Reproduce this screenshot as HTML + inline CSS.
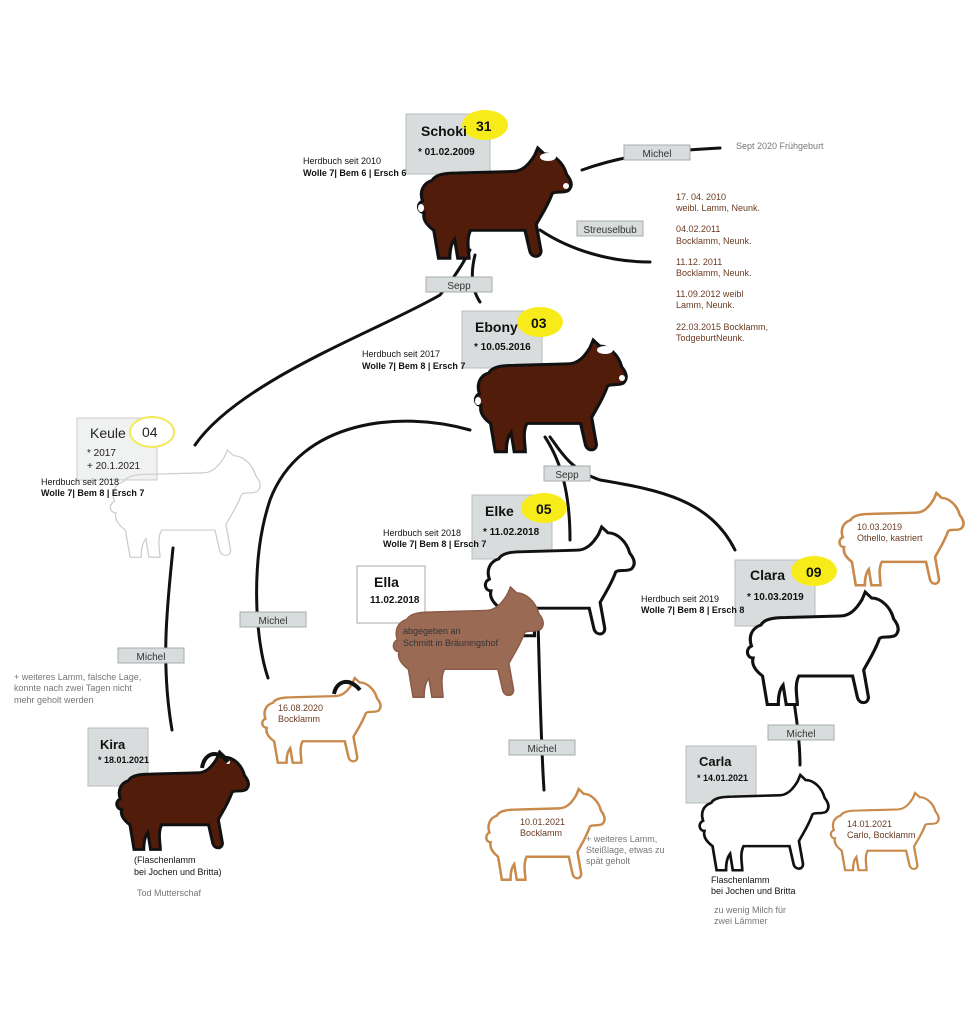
<!DOCTYPE html>
<html><head><meta charset="utf-8"><style>
body{margin:0;background:#fff;}
svg text{font-family:"Liberation Sans",sans-serif;}
</style></head><body>
<svg width="972" height="1024" viewBox="0 0 972 1024" xmlns="http://www.w3.org/2000/svg">
<defs>
<path id="sh" d="M6,36 C4,30 6,24 12,22 C14,18 20,17 28,17 L62,16 C68,16 72,12 76,5 L78,0 L82,4 C88,4 94,10 96,18 C99,22 100,26 97,29 C93,31 89,29 87,31 C84,40 80,46 77,52 L80,70 C80,75 74,75 73,70 L70,56 L36,56 C33,62 35,70 35,75 L28,75 L26,62 C23,66 23,72 23,75 L16,75 L13,56 C8,52 6,48 7,44 C3,44 2,38 6,36 Z"/>
</defs>
<g fill="none" stroke="#111" stroke-width="3" stroke-linecap="round">
<path d="M582,170 C610,160 640,152 720,148"/>
<path d="M540,230 C570,250 610,262 650,262"/>
<path d="M470,250 C460,270 448,285 440,295 C380,330 240,380 195,445"/>
<path d="M475,255 C470,275 472,290 480,302"/>
<path d="M470,430 C400,410 300,420 270,500 C250,560 255,640 268,678"/>
<path d="M545,437 C560,460 570,490 570,540"/>
<path d="M550,437 C560,450 570,470 600,480 C660,490 710,500 735,550"/>
<path d="M173,548 C168,600 160,660 172,730"/>
<path d="M538,620 C540,700 542,760 544,790"/>
<path d="M792,688 C796,715 800,740 800,765"/>
</g>
<g fill="#d8dcdd" stroke="#b8bcbe">
<rect x="406" y="114" width="84" height="60"/>
<rect x="462" y="311" width="80" height="57"/>
<rect x="77" y="418" width="80" height="62" fill="#f0f1f1" stroke="#ccc"/>
<rect x="472" y="495" width="80" height="64"/>
<rect x="357" y="566" width="68" height="57" fill="#fff" stroke="#aaa"/>
<rect x="735" y="560" width="80" height="66"/>
<rect x="88" y="728" width="60" height="58"/>
<rect x="686" y="746" width="70" height="57"/>
</g>
<g fill="#d8dcdd" stroke="#a8acae" stroke-width="1">
<rect x="624" y="145" width="66" height="15"/>
<rect x="577" y="221" width="66" height="15"/>
<rect x="426" y="277" width="66" height="15"/>
<rect x="544" y="466" width="46" height="15"/>
<rect x="240" y="612" width="66" height="15"/>
<rect x="118" y="648" width="66" height="15"/>
<rect x="509" y="740" width="66" height="15"/>
<rect x="768" y="725" width="66" height="15"/>
</g>
<g font-size="10" fill="#333" text-anchor="middle">
<text x="657" y="157">Michel</text><text x="610" y="233">Streuselbub</text><text x="459" y="289">Sepp</text>
<text x="567" y="478">Sepp</text><text x="273" y="624">Michel</text><text x="151" y="660">Michel</text>
<text x="542" y="752">Michel</text><text x="801" y="737">Michel</text>
</g>
<use href="#sh" transform="translate(413,148) scale(1.6,1.47)" fill="#521c0a" stroke="#111" stroke-width="2"/>
<use href="#sh" transform="translate(470,340) scale(1.58,1.49)" fill="#521c0a" stroke="#111" stroke-width="2"/>
<use href="#sh" transform="translate(105,450) scale(1.57,1.43)" fill="none" stroke="#ccc" stroke-width="0.8"/>
<use href="#sh" transform="translate(480,527) scale(1.56,1.45)" fill="#fff" stroke="#111" stroke-width="2"/>
<use href="#sh" transform="translate(388,587) scale(1.57,1.47)" fill="#9b6a55" stroke="#8a5c48" stroke-width="1"/>
<use href="#sh" transform="translate(742,592) scale(1.58,1.5)" fill="#fff" stroke="#111" stroke-width="2"/>
<use href="#sh" transform="translate(835,493) scale(1.3,1.23)" fill="#fff" stroke="#c8894a" stroke-width="2"/>
<use href="#sh" transform="translate(258,678) scale(1.24,1.13)" fill="#fff" stroke="#c8894a" stroke-width="2"/>
<use href="#sh" transform="translate(112,752) scale(1.38,1.3)" fill="#521c0a" stroke="#111" stroke-width="2.2"/>
<use href="#sh" transform="translate(482,789) scale(1.24,1.21)" fill="#fff" stroke="#c8894a" stroke-width="2"/>
<use href="#sh" transform="translate(695,775) scale(1.35,1.27)" fill="#fff" stroke="#111" stroke-width="2"/>
<use href="#sh" transform="translate(827,793) scale(1.13,1.03)" fill="#fff" stroke="#c8894a" stroke-width="2"/>
<g fill="#fff">
<ellipse cx="548" cy="157" rx="8" ry="4"/><ellipse cx="566" cy="186" rx="3" ry="3"/><ellipse cx="421" cy="208" rx="3" ry="4"/>
<ellipse cx="605" cy="350" rx="8" ry="4"/><ellipse cx="622" cy="378" rx="3" ry="3"/><ellipse cx="478" cy="401" rx="3" ry="4"/>
<circle cx="228" cy="762" r="2"/>
</g>
<g fill="none" stroke="#111" stroke-width="4"><path d="M334,694 C336,682 348,676 360,690"/><path d="M202,768 C204,754 216,748 228,762"/></g>
<ellipse cx="485" cy="125" rx="23" ry="15" fill="#f7ec1a"/>
<ellipse cx="540" cy="322" rx="23" ry="15" fill="#f7ec1a"/>
<ellipse cx="152" cy="432" rx="22" ry="15" fill="#fff" stroke="#f2e95a" stroke-width="2"/>
<ellipse cx="544" cy="508" rx="23" ry="15" fill="#f7ec1a"/>
<ellipse cx="814" cy="571" rx="23" ry="15" fill="#f7ec1a"/>
<g font-weight="bold" fill="#111">
<text x="421" y="136" font-size="14">Schoki</text><text x="476" y="131" font-size="14">31</text>
<text x="418" y="155" font-size="10">* 01.02.2009</text>
<text x="475" y="332" font-size="14">Ebony</text><text x="531" y="328" font-size="14">03</text>
<text x="474" y="350" font-size="10">* 10.05.2016</text>
<text x="485" y="516" font-size="14">Elke</text><text x="536" y="514" font-size="14">05</text>
<text x="483" y="535" font-size="10">* 11.02.2018</text>
<text x="374" y="587" font-size="14">Ella</text><text x="370" y="603" font-size="10">11.02.2018</text>
<text x="750" y="580" font-size="14">Clara</text><text x="806" y="577" font-size="14">09</text>
<text x="747" y="600" font-size="10">* 10.03.2019</text>
<text x="100" y="749" font-size="13">Kira</text><text x="98" y="763" font-size="9">* 18.01.2021</text>
<text x="699" y="766" font-size="13">Carla</text><text x="697" y="781" font-size="9">* 14.01.2021</text>
</g>
<g fill="#222" font-size="14"><text x="90" y="438">Keule</text><text x="142" y="437">04</text></g>
<g fill="#222" font-size="10"><text x="87" y="456">* 2017</text><text x="87" y="469">+ 20.1.2021</text></g>
<g font-size="9" fill="#111">
<text x="303" y="164">Herdbuch seit 2010</text><text x="303" y="176" font-weight="bold">Wolle 7| Bem 6 | Ersch 6</text>
<text x="362" y="357">Herdbuch seit 2017</text><text x="362" y="369" font-weight="bold">Wolle 7| Bem 8 | Ersch 7</text>
<text x="41" y="485">Herdbuch seit 2018</text><text x="41" y="496" font-weight="bold">Wolle 7| Bem 8 | Ersch 7</text>
<text x="383" y="536">Herdbuch seit 2018</text><text x="383" y="547" font-weight="bold">Wolle 7| Bem 8 | Ersch 7</text>
<text x="641" y="602">Herdbuch seit 2019</text><text x="641" y="613" font-weight="bold">Wolle 7| Bem 8 | Ersch 8</text>
<text x="403" y="634" fill="#333">abgegeben an</text><text x="403" y="646" fill="#333">Schmitt in Bräuningshof</text>
<text x="134" y="863">(Flaschenlamm</text><text x="134" y="875">bei Jochen und Britta)</text>
<text x="711" y="883">Flaschenlamm</text><text x="711" y="894">bei Jochen und Britta</text>
</g>
<g font-size="9" fill="#777">
<text x="736" y="149">Sept 2020 Frühgeburt</text>
<text x="14" y="680">+ weiteres Lamm, falsche Lage,</text><text x="14" y="691">konnte nach zwei Tagen nicht</text><text x="14" y="703">mehr geholt werden</text>
<text x="137" y="896">Tod Mutterschaf</text>
<text x="586" y="842">+ weiteres Lamm,</text><text x="586" y="853">Steißlage, etwas zu</text><text x="586" y="864">spät geholt</text>
<text x="714" y="913">zu wenig Milch für</text><text x="714" y="924">zwei Lämmer</text>
</g>
<g font-size="9" fill="#6a3a22">
<text x="676" y="200">17. 04. 2010</text><text x="676" y="211">weibl. Lamm, Neunk.</text>
<text x="676" y="232">04.02.2011</text><text x="676" y="244">Bocklamm, Neunk.</text>
<text x="676" y="265">11.12. 2011</text><text x="676" y="276">Bocklamm, Neunk.</text>
<text x="676" y="297">11.09.2012 weibl</text><text x="676" y="308">Lamm, Neunk.</text>
<text x="676" y="330">22.03.2015 Bocklamm,</text><text x="676" y="341">TodgeburtNeunk.</text>
<text x="857" y="530">10.03.2019</text><text x="857" y="541">Othello, kastriert</text>
<text x="278" y="711">16.08.2020</text><text x="278" y="722">Bocklamm</text>
<text x="520" y="825">10.01.2021</text><text x="520" y="836">Bocklamm</text>
<text x="847" y="827">14.01.2021</text><text x="847" y="838">Carlo, Bocklamm</text>
</g>
</svg>
</body></html>
